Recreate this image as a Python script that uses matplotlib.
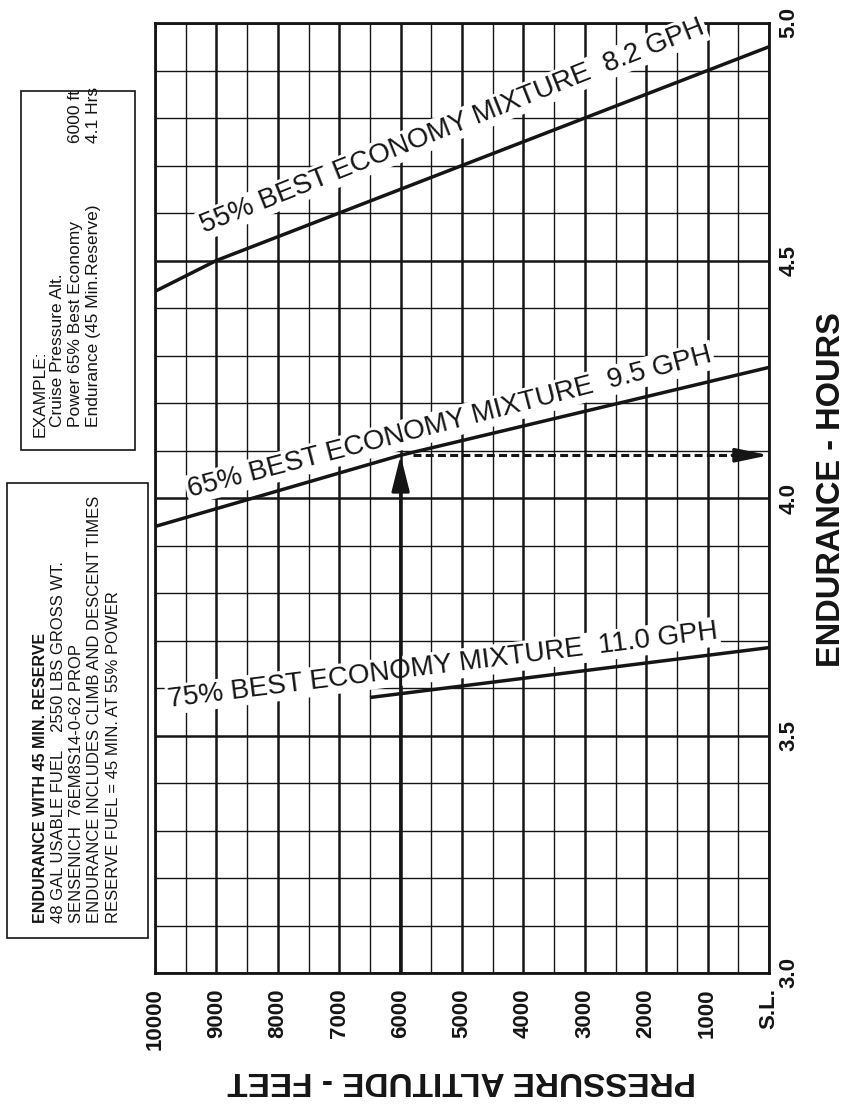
import math
import matplotlib
matplotlib.use("Agg")
import matplotlib.pyplot as plt
from matplotlib.patches import Rectangle
from matplotlib.ticker import FixedLocator, MultipleLocator

plt.rcParams['font.family'] = ['Liberation Sans', 'DejaVu Sans']

# ---------------- data ----------------
alt_55 = [10000, 9000, 0]
end_55 = [4.435, 4.50, 4.95]
alt_65 = [10000, 6000, 0]
end_65 = [3.94, 4.09, 4.275]
alt_75 = [6500, 0]
end_75 = [3.58, 3.685]

curve_labels = ["55% BEST ECONOMY MIXTURE  8.2 GPH",
                "65% BEST ECONOMY MIXTURE  9.5 GPH",
                "75% BEST ECONOMY MIXTURE  11.0 GPH"]
label_anchor_alt = [9200, 9430, 9772]
label_anchor_end = [4.558, 4.002, 3.560]

example_alt = 6000
example_end = 4.09

alt_ticks = [10000, 9000, 8000, 7000, 6000, 5000, 4000, 3000, 2000, 1000, 0]
alt_tick_labels = ['10000', '9000', '8000', '7000', '6000', '5000', '4000',
                   '3000', '2000', '1000', 'S.L.']
end_ticks = [3.0, 3.5, 4.0, 4.5, 5.0]
end_tick_labels = ['3.0', '3.5', '4.0', '4.5', '5.0']

example_lines = ["EXAMPLE:", "Cruise Pressure Alt.", "Power 65% Best Economy",
                 "Endurance (45 Min.Reserve)"]
example_values = ["6000 ft", "4.1 Hrs"]
notes_title = "ENDURANCE WITH 45 MIN. RESERVE"
notes_lines = ["48 GAL USABLE FUEL    2550 LBS GROSS WT.",
               "SENSENICH  76EM8S14-0-62 PROP",
               "ENDURANCE INCLUDES CLIMB AND DESCENT TIMES",
               "RESERVE FUEL = 45 MIN. AT 55% POWER"]

# ---------------- layout ----------------
W, H = 846, 1104
INK = '#151515'


def fx(px):
    return px / W


def fy(py):
    return 1 - py / H


fig = plt.figure(figsize=(W / 100, H / 100), dpi=100)
fig.patch.set_facecolor('white')
ax = fig.add_axes([fx(155), fy(973), (769 - 155) / W, (973 - 23) / H])

ax.set_xlim(10000, 0)
ax.set_ylim(3.0, 5.0)

ax.xaxis.set_major_locator(FixedLocator(alt_ticks))
ax.xaxis.set_minor_locator(MultipleLocator(500))
ax.set_xticklabels(alt_tick_labels, rotation=90, fontsize=16, fontweight='bold',
                   color=INK)
ax.yaxis.set_ticks_position('right')
ax.yaxis.set_major_locator(FixedLocator(end_ticks))
ax.yaxis.set_minor_locator(MultipleLocator(0.1))
ax.set_yticklabels(end_tick_labels, rotation=90, fontsize=16, fontweight='bold',
                   color=INK, va='center')
ax.tick_params(axis='both', which='both', length=0)
ax.tick_params(axis='x', pad=11)
ax.tick_params(axis='y', pad=7)

ax.set_axisbelow(True)
ax.grid(which='major', color=INK, lw=1.8)
ax.grid(which='minor', color=INK, lw=1.0)
for s in ax.spines.values():
    s.set_linewidth(2.0)
    s.set_color(INK)

# curves
for a, e in [(alt_55, end_55), (alt_65, end_65), (alt_75, end_75)]:
    ax.plot(a, e, color=INK, lw=2.5, zorder=4, solid_capstyle='butt')

# curve labels
for a, e, lab, xa, ya in zip([alt_55, alt_65, alt_75], [end_55, end_65, end_75],
                             curve_labels, label_anchor_alt, label_anchor_end):
    p0 = ax.transData.transform((a[0], e[0]))
    p1 = ax.transData.transform((a[-1], e[-1]))
    ang = math.degrees(math.atan2(p1[1] - p0[1], p1[0] - p0[0]))
    ax.text(xa, ya, lab, rotation=ang, rotation_mode='anchor', ha='left',
            va='baseline', fontsize=20, color=INK, zorder=3,
            bbox=dict(facecolor='white', edgecolor='none', pad=1.5))

# example arrows
ax.annotate('', xy=(example_alt, example_end), xytext=(example_alt, 3.0),
            arrowprops=dict(arrowstyle='-|>,head_length=2.2,head_width=0.55',
                            lw=2.2, color=INK, mutation_scale=10,
                            shrinkA=0, shrinkB=0), zorder=5)
ax.plot([5800, 500], [example_end, example_end], color=INK, lw=2.2,
        dashes=(2.6, 1.4), zorder=5)
ax.annotate('', xy=(0, example_end), xytext=(600, example_end),
            arrowprops=dict(arrowstyle='-|>,head_length=2.0,head_width=0.42',
                            lw=2.2, color=INK, mutation_scale=10,
                            shrinkA=0, shrinkB=0), zorder=5, annotation_clip=False)

# axis titles
fig.text(fx(462), fy(1080), "PRESSURE ALTITUDE - FEET", rotation=180,
         ha='center', va='center', fontsize=24, fontweight='bold', color=INK)
fig.text(fx(831), fy(490), "ENDURANCE - HOURS", rotation=90,
         ha='center', va='center', fontsize=23.5, fontweight='bold', color=INK)

# example box
fig.add_artist(Rectangle((fx(21), fy(450)), (135 - 21) / W, (450 - 91) / H,
                         transform=fig.transFigure, fill=False, ec=INK, lw=1.2))
ex_x = [40, 57, 75, 93]
ex_start = [437, 427, 427, 427]
for s, x, y0 in zip(example_lines, ex_x, ex_start):
    fig.text(fx(x), fy(y0), s, rotation=90, rotation_mode='anchor', ha='left',
             va='center', fontsize=12.5, color=INK)
for s, x in zip(example_values, [75, 93]):
    fig.text(fx(x), fy(143), s, rotation=90, rotation_mode='anchor', ha='left',
             va='center', fontsize=12.5, color=INK)

# notes box
fig.add_artist(Rectangle((fx(7), fy(938)), (148 - 7) / W, (938 - 483) / H,
                         transform=fig.transFigure, fill=False, ec=INK, lw=1.2))
fig.text(fx(40), fy(923), notes_title, rotation=90, rotation_mode='anchor',
         ha='left', va='center', fontsize=11.5, fontweight='bold', color=INK)
for s, x in zip(notes_lines, [58, 76, 94, 113]):
    fig.text(fx(x), fy(923), s, rotation=90, rotation_mode='anchor', ha='left',
             va='center', fontsize=12, color=INK)

fig.savefig("out.png", dpi=100, facecolor='white')
